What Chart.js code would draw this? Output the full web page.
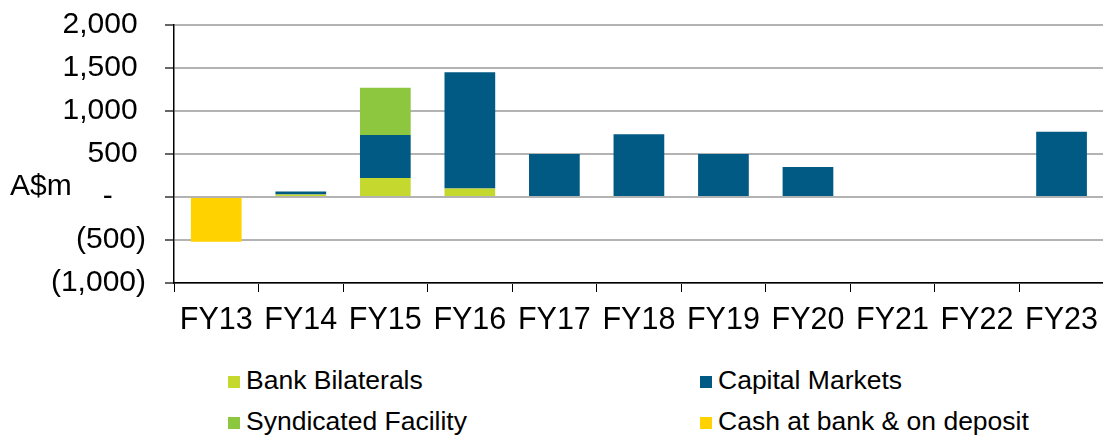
<!DOCTYPE html>
<html>
<head>
<meta charset="utf-8">
<script src="https://cdn.jsdelivr.net/npm/chart.js@4"></script>
<style>
  body { margin: 0; background: #fff; font-family: "Liberation Sans", Arial, sans-serif; }
  #wrap { position: relative; width: 1103px; height: 435px; overflow: hidden; }
  #box { position: absolute; left: 0; top: -12px; width: 1108px; height: 357px; }
  .leg { position: absolute; font-size: 26.5px; color: #000; line-height: 30px; white-space: nowrap; }
  .leg span { display: inline-block; width: 12px; height: 12px; margin-right: 6px; vertical-align: 1px; }
</style>
</head>
<body>
<div id="wrap">
  <div id="box"><canvas id="grafico"></canvas></div>
  <div class="leg" style="left:228px; top:365px"><span style="background:#C4D82E"></span>Bank Bilaterals</div>
  <div class="leg" style="left:700px; top:365px"><span style="background:#005A84"></span>Capital Markets</div>
  <div class="leg" style="left:228px; top:406px"><span style="background:#8DC63F"></span>Syndicated Facility</div>
  <div class="leg" style="left:700px; top:406px"><span style="background:#FFD200"></span>Cash at bank &amp; on deposit</div>
</div>
<script>
// values in A$m
const anos = ['FY13', 'FY14', 'FY15', 'FY16', 'FY17', 'FY18', 'FY19', 'FY20', 'FY21', 'FY22', 'FY23']
const bankBilaterals = [0, 30, 220, 100, 0, 0, 0, 0, 0, 0, 0]
const capitalMarkets = [0, 35, 500, 1350, 500, 730, 500, 350, 0, 0, 760]
const syndicated = [0, 0, 550, 0, 0, 0, 0, 0, 0, 0, 0]
const cash = [-520, 0, 0, 0, 0, 0, 0, 0, 0, 0, 0]

const fonte = '"Liberation Sans", Arial, sans-serif'

function rotulo(v) {
    if (v == 0) return '-    '
    let s = Math.abs(v).toLocaleString('en-US')
    return v < 0 ? '(' + s + ')' : s + ' '
}

const unidade = {
    id: 'unidade',
    afterDraw(chart) {
        const ctx = chart.ctx
        ctx.save()
        ctx.font = '30px ' + fonte
        ctx.fillStyle = '#000'
        ctx.textAlign = 'left'
        ctx.textBaseline = 'middle'
        ctx.fillText('A$m', 10, 199)
        ctx.restore()
    }
}

window.onload = () => {
    var grf = document.getElementById('grafico').getContext('2d')

    var data = {
        labels: anos,
        datasets: [
            { label: 'Bank Bilaterals', data: bankBilaterals, backgroundColor: '#C4D82E' },
            { label: 'Capital Markets', data: capitalMarkets, backgroundColor: '#005A84' },
            { label: 'Syndicated Facility', data: syndicated, backgroundColor: '#8DC63F' },
            { label: 'Cash at bank & on deposit', data: cash, backgroundColor: '#FFD200' }
        ]
    }

    var options = {
        responsive: true,
        maintainAspectRatio: false,
        animation: false,
        layout: { padding: 0 },
        datasets: { bar: { barPercentage: 0.6, categoryPercentage: 1.0, borderWidth: 0 } },
        plugins: { legend: { display: false }, tooltip: { enabled: false } },
        scales: {
            x: {
                stacked: true,
                afterFit: (s) => { s.height = 62 },
                grid: { drawOnChartArea: false, drawTicks: true, tickLength: 9, tickColor: '#000', offset: true },
                border: { color: '#000', width: 1.5 },
                ticks: { color: '#000', font: { family: fonte, size: 30.5 }, padding: 10, maxRotation: 0, autoSkip: false }
            },
            y: {
                stacked: true,
                min: -1000,
                max: 2000,
                afterFit: (s) => { s.width = 174 },
                grid: { color: '#b3b3b3', lineWidth: 2, tickLength: 9, tickColor: '#666' },
                border: { color: '#000', width: 1.5 },
                ticks: {
                    stepSize: 500,
                    color: '#000',
                    font: { family: fonte, size: 30 },
                    padding: 19,
                    callback: (v) => rotulo(v)
                }
            }
        }
    }

    new Chart(grf, { type: 'bar', data: data, options: options, plugins: [unidade] })
}
</script>
</body>
</html>
